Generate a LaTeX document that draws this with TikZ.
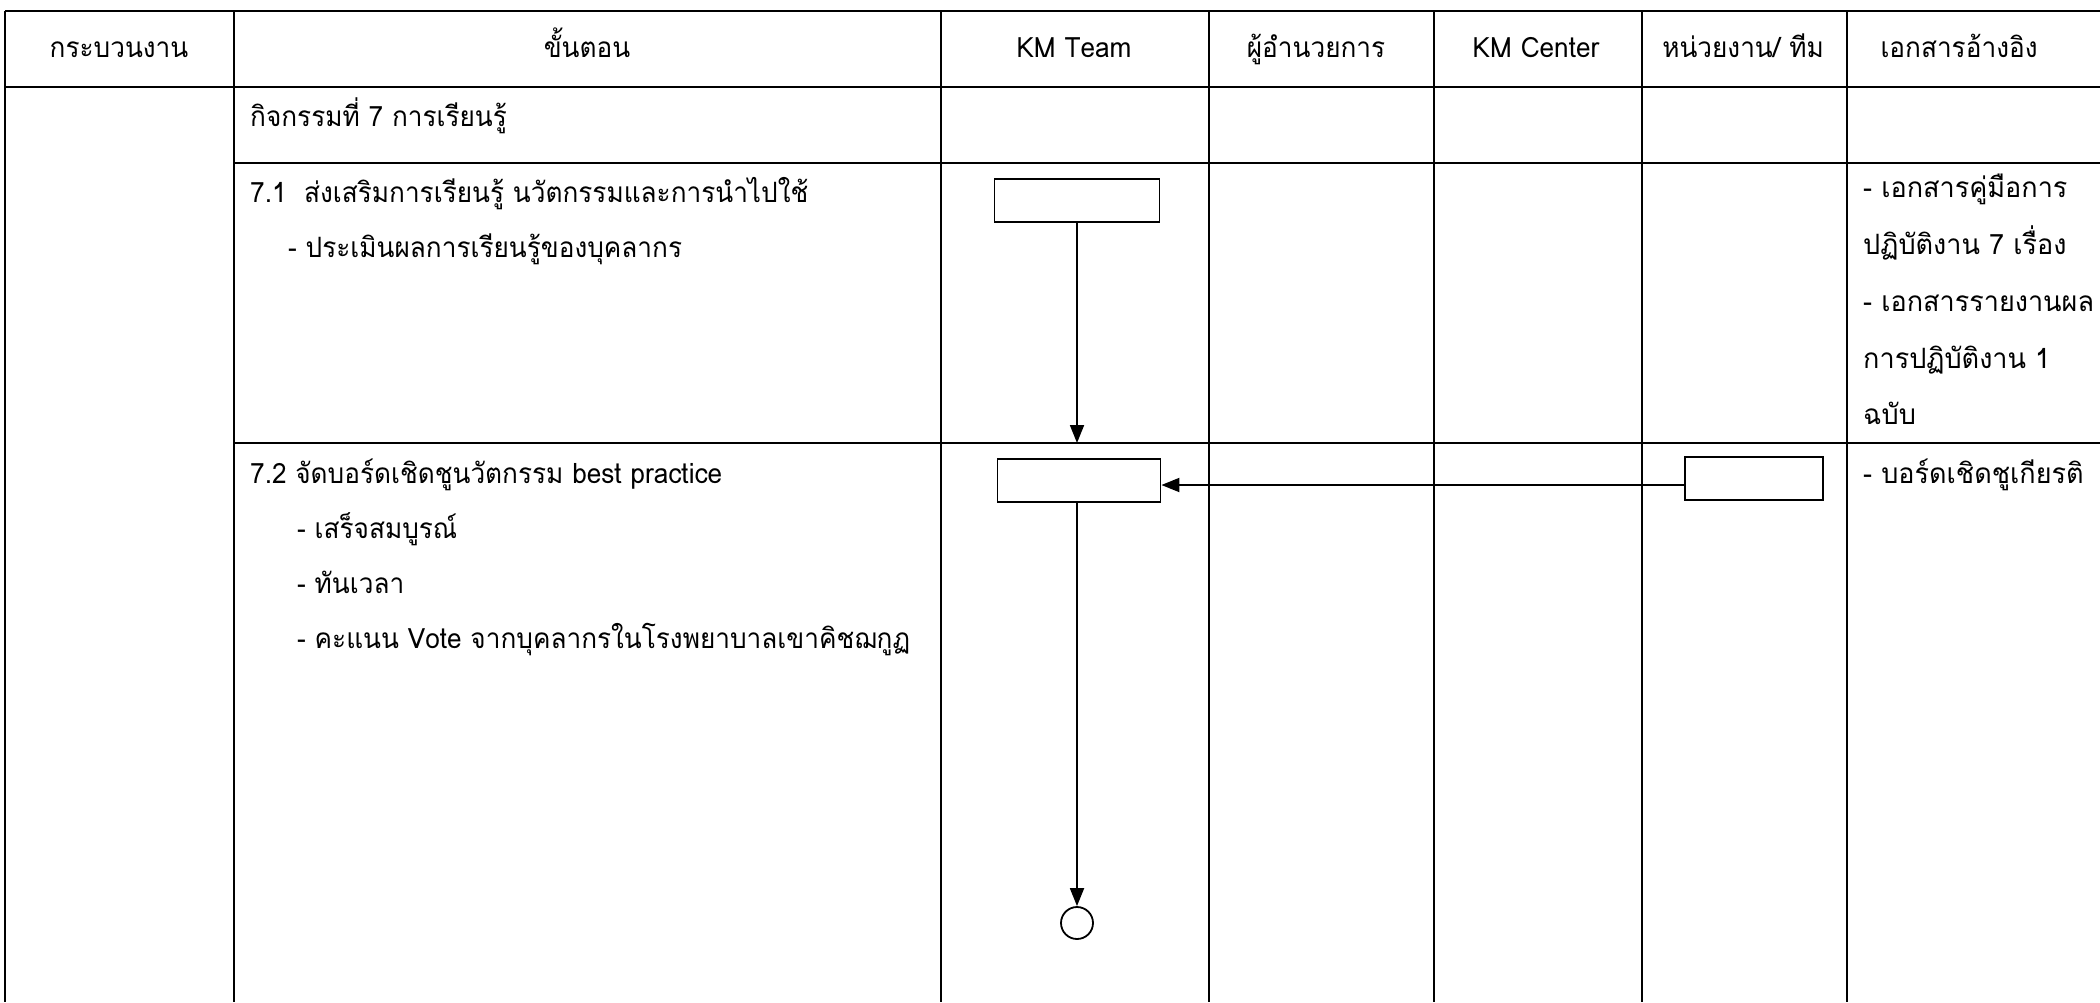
\documentclass[tikz,border=0pt]{standalone}
\usepackage{fontspec}
\setmainfont[Script=Thai]{Loma}
\newfontfamily\thaicond[Script=Thai,FakeStretch=0.935]{Loma}
\newfontfamily\thairef[Script=Thai,FakeStretch=0.965]{Loma}
\usetikzlibrary{arrows.meta}
\tikzset{
  grid/.style={line width=1.8pt},
  hdr/.style={anchor=base, inner sep=0pt, font=\thaicond\fontsize{28}{32}\selectfont},
  txt/.style={anchor=base west, inner sep=0pt, font=\thaicond\fontsize{28}{32}\selectfont},
  reftxt/.style={anchor=base west, inner sep=0pt, font=\thairef\fontsize{28}{32}\selectfont},
  flowbox/.style={draw, line width=1.8pt, minimum height=43pt, inner sep=0pt},
  endcirc/.style={draw, circle, line width=1.8pt, minimum size=32pt, inner sep=0pt},
  arr/.style={line width=1.9pt, -{Triangle[length=18pt,width=14pt]}},
}
\begin{document}
\begin{tikzpicture}[x=1pt,y=-1pt]
\useasboundingbox (0,0) rectangle (2100,1002);
\fill[white] (0,0) rectangle (2100,1002);
% table grid
\draw[grid] (5,11) -- (2100,11);
\draw[grid] (5,87) -- (2100,87);
\draw[grid] (234,163) -- (2100,163);
\draw[grid] (234,443) -- (2100,443);
\foreach \x in {5,234,941,1209,1434,1642,1847}
  \draw[grid] (\x,11) -- (\x,1002);
% header
\node[hdr] (h1) at (119,57) {กระบวนงาน};
\node[hdr] (h2) at (587,57) {ขั้นตอน};
\node[hdr] (h3) at (1074,57) {KM Team};
\node[hdr] (h4) at (1316,57) {ผู้อำนวยการ};
\node[hdr] (h5) at (1536,57) {KM Center};
\node[hdr] (h6) at (1743,57) {หน่วยงาน/ ทีม};
\node[hdr] (h7) at (1959,57) {เอกสารอ้างอิง};
% steps
\node[txt] (t0) at (250,126) {กิจกรรมที่ 7 การเรียนรู้};
\node[txt] (t1) at (250,202) {7.1\ \ ส่งเสริมการเรียนรู้ นวัตกรรมและการนำไปใช้};
\node[txt] (t2) at (288,257) {- ประเมินผลการเรียนรู้ของบุคลากร};
\node[txt] (t3) at (250,483) {7.2 จัดบอร์ดเชิดชูนวัตกรรม best practice};
\node[txt] (t4) at (297,538) {- เสร็จสมบูรณ์};
\node[txt] (t5) at (297,593) {- ทันเวลา};
\node[txt] (t6) at (297,648) {- คะแนน Vote จากบุคลากรในโรงพยาบาลเขาคิชฌกูฏ};
% references
\node[reftxt] (r1) at (1863,197) {- เอกสารคู่มือการ};
\node[reftxt] (r2) at (1863,254) {ปฏิบัติงาน 7 เรื่อง};
\node[reftxt] (r3) at (1863,311) {- เอกสารรายงานผล};
\node[reftxt] (r4) at (1863,368) {การปฏิบัติงาน 1};
\node[reftxt] (r5) at (1863,424) {ฉบับ};
\node[reftxt] (r6) at (1863,483) {- บอร์ดเชิดชูเกียรติ};
% flow
\node[flowbox, minimum width=165pt] (A) at (1077,200.5) {};
\node[flowbox, minimum width=163pt] (B) at (1079,480.5) {};
\node[flowbox, minimum width=138pt] (C) at (1754,478.5) {};
\node[endcirc] (E) at (1077,923) {};
\coordinate (rowend) at (1077,443);
\coordinate (cout) at (1685,485);
\draw[arr] (A.south -| rowend) -- (rowend);
\draw[arr] (cout) -- (cout -| B.east);
\draw[arr] (B.south -| E.north) -- (E.north);
\end{tikzpicture}
\end{document}
